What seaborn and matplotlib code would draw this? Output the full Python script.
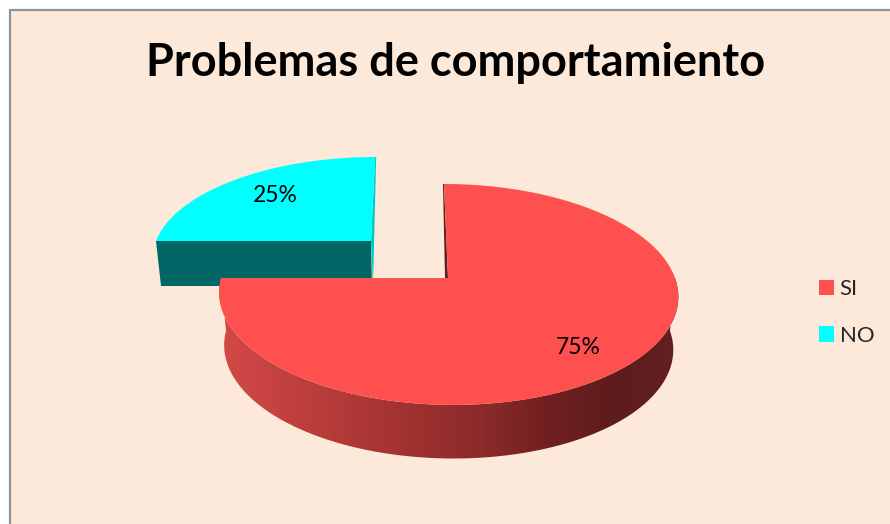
import numpy as np
import seaborn as sns
import matplotlib.pyplot as plt
from matplotlib.colors import LinearSegmentedColormap
from matplotlib.patches import Polygon, Rectangle

title = 'Problemas de comportamiento'
labels = ['SI', 'NO']
shares = [75, 25]
colors = ['#ff5050', '#00ffff']

sns.set_theme(style='white')
plt.rcParams['font.family'] = ['Lato', 'DejaVu Sans']

fig = plt.figure(figsize=(8.9, 5.24), dpi=100, facecolor='white')
ax = fig.add_axes([0, 0, 1, 1])

# pie gives the angles, legend handles and percent texts; faces are redrawn in perspective below
res = ax.pie(shares, colors=colors, startangle=90, counterclock=False, autopct='%1.0f%%',
             textprops={'fontsize': 16.5, 'color': 'black'})
wedges, pct_texts = res[0], res[2]
ax.set_aspect('auto')


def rim(theta, cx, cy, sx, sy, k=0.149, shear=0.0):
    t = np.radians(theta)
    w = 1 + k * np.sin(t)
    up = sy * np.sin(t) / w
    return np.column_stack([cx + sx * np.cos(t) / w + shear * up, cy - up])


red_top = dict(cx=448, cy=278, sx=227, sy=108, shear=-0.043)
red_low = dict(cx=448, cy=331, sx=222, sy=108.5, shear=-0.043)
cyan_top = dict(cx=371, cy=241, sx=215, sy=96.5, shear=0.05)

red, cyan = wedges
t_red = np.linspace(red.theta1, red.theta2, 300)
t_cyan = np.linspace(cyan.theta1, cyan.theta2, 100)

ax.add_patch(Rectangle((9.5, 9.5), 900, 540, facecolor='#fde9d9', edgecolor='#939393', lw=1.6, zorder=0))

# cyan slice: front cut face, side sliver, top face
arc_c = rim(t_cyan, **cyan_top)
apex_c = np.array([cyan_top['cx'], cyan_top['cy']])
left_c = arc_c[np.argmin(arc_c[:, 0])]
ax.add_patch(Polygon([left_c, apex_c, apex_c + [1, 45], left_c + [5, 45]],
                     facecolor='#006666', edgecolor='none', zorder=2))
top_c = arc_c[np.argmin(arc_c[:, 1])]
ax.add_patch(Polygon([top_c, top_c + [1, 0], apex_c + [2, 45], apex_c],
                     facecolor='#00c8c8', edgecolor='none', zorder=2))
ax.add_patch(Polygon(np.vstack([apex_c, arc_c]), facecolor=colors[1], edgecolor='none', zorder=3))

# red slice: gradient wall, back cut sliver, top face
t_wall = np.linspace(180, 360, 300)
wall = Polygon(np.vstack([rim(t_wall, **red_top), rim(t_wall[::-1], **red_low)]),
               facecolor='none', edgecolor='none')
ax.add_patch(wall)
shade = LinearSegmentedColormap.from_list('wall', [(0, '#d44a48'), (0.15, '#c2413f'), (0.39, '#a33331'),
                                                   (0.57, '#8a2a2a'), (0.71, '#702020'), (0.85, '#5e1c1c'),
                                                   (1, '#652020')])
img = ax.imshow(np.linspace(0, 1, 256).reshape(1, -1), cmap=shade, extent=(215, 685, 465, 275),
                aspect='auto', interpolation='bilinear', zorder=4)
img.set_clip_path(wall)

arc_r = rim(t_red, **red_top)
apex_r = np.array([red_top['cx'], red_top['cy']])
top_r = rim(np.array([90.0]), **red_top)[0]
ax.add_patch(Polygon([top_r, top_r + [-1, 0], apex_r + [-3, 0], apex_r],
                     facecolor='#5e2020', edgecolor='none', zorder=5))
ax.add_patch(Polygon(np.vstack([apex_r, arc_r]), facecolor=colors[0], edgecolor='none', zorder=6))

pct_texts[0].set_position((578, 347))
pct_texts[1].set_position((275, 195))
for t in pct_texts:
    t.set_zorder(8)
    t.set_ha('center')
    t.set_va('center')

ax.text(456, 63, title, fontsize=32.5, fontweight='bold', color='black', ha='center', va='center', zorder=8)

leg = ax.legend(wedges, labels, loc='upper left', bbox_to_anchor=(819, 279), bbox_transform=ax.transData,
                frameon=False, fontsize=16, borderpad=0, borderaxespad=0, handlelength=0.68, handleheight=0.68,
                handletextpad=0.25, labelspacing=1.2)
for h in leg.get_patches():
    h.set_linewidth(0)
for w in wedges:
    w.remove()

ax.set_xlim(0, 890)
ax.set_ylim(524, 0)
ax.axis('off')

fig.savefig('out.png', dpi=100)
